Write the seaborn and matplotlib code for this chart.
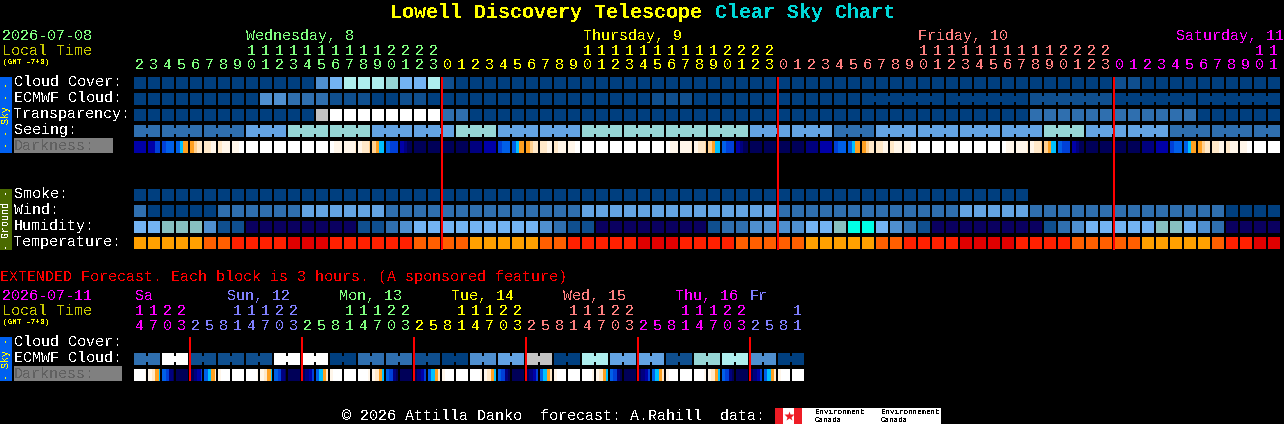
import numpy as np
import seaborn as sns
from matplotlib import pyplot as plt
from matplotlib.colors import ListedColormap
from matplotlib.patches import Rectangle

plt.rcParams['font.family'] = ['Liberation Mono', 'DejaVu Sans Mono']

W, H = 1284, 424

# colour levels, values below are indexes into these
sky_colors = ['#003f7f', '#0f4f8f', '#2f6faf', '#4f8fcf', '#63a3e3', '#73b3f3',
              '#96d6d6', '#aeeeee', '#c3c3c3', '#ffffff']
hum_colors = ['#0a0060', '#0f4f8f', '#2f6faf', '#4f8fcf', '#73b3f3', '#87c0c0', '#00ffe6']
temp_colors = ['#ffa000', '#ff5f00', '#ff2000', '#e00000']
dark_colors = ['#000058', '#00007f', '#0000a8', '#0040d8', '#0060e8', '#00c0ff',
               '#ffa020', '#ffd090', '#ffe8c8', '#fff6ea', '#ffffff']

# hourly forecast, 82 blocks
hours = [2, 3, 4, 5, 6, 7, 8, 9, 10, 11, 12, 13, 14, 15, 16, 17, 18, 19, 20, 21, 22, 23,
         0, 1, 2, 3, 4, 5, 6, 7, 8, 9, 10, 11, 12, 13, 14, 15, 16, 17, 18, 19, 20, 21, 22, 23,
         0, 1, 2, 3, 4, 5, 6, 7, 8, 9, 10, 11, 12, 13, 14, 15, 16, 17, 18, 19, 20, 21, 22, 23,
         0, 1, 2, 3, 4, 5, 6, 7, 8, 9, 10, 11]
hour_colors = ['#80ff80'] * 22 + ['#ffff00'] * 24 + ['#ff8080'] * 24 + ['#ff00ff'] * 12

cloud = [0] * 13 + [3, 5, 7, 7, 7, 6, 5, 5, 7, 1] + [0] * 47 + [1, 1] + [0] * 10
ecmwf = [0] * 9 + [3, 3, 2, 2, 2, 1, 1, 1, 0, 0, 1, 1, 0] + [0] * 15 + [1, 1, 1] + [0] * 24 + [1] * 6 + [0] * 12
transparency = [0] * 13 + [8] + [9] * 8 + [2, 2] + [0] * 40 + [2] * 12 + [0] * 6
seeing = [2] * 8 + [4] * 3 + [6] * 6 + [4] * 6 + [6] * 3 + [4] * 6 + [6] * 12 + [4] * 6 + [2] * 3 \
    + [4] * 12 + [6] * 3 + [4] * 6 + [2] * 8
seeing_groups = [2] + [3] * 26 + [2]
ecmwf_groups = [1] * 52 + [6] * 5

darkness = [
    [2, 2, 2, 2], [2, 2, 3, 3], [3, 4, 4, 4], [4, 5, 6, 6], [6, 7, 8, 8], [8, 8, 9, 9], [8, 9, 9, 9], [9, 9, 10, 10],
    [10, 10, 10, 10], [10, 10, 10, 10], [10, 10, 10, 10], [10, 10, 10, 10], [10, 10, 10, 10], [10, 10, 10, 10],
    [10, 9, 9, 9], [9, 9, 9, 8], [9, 8, 8, 7], [7, 6, 5, 5], [4, 3, 3, 3], [2, 1, 0, 0], [0, 0, 0, 0], [0, 0, 0, 0],
    # Thursday
    [0, 0, 0, 0], [0, 0, 0, 0], [1, 1, 1, 1], [2, 2, 2, 2], [3, 4, 4, 4], [4, 5, 6, 6], [6, 7, 8, 8], [8, 8, 9, 9],
    [8, 9, 9, 9], [9, 9, 10, 10], [10, 10, 10, 10], [10, 10, 10, 10], [10, 10, 10, 10], [10, 10, 10, 10],
    [10, 10, 10, 10], [10, 10, 10, 10], [10, 9, 9, 9], [9, 9, 9, 8], [9, 8, 8, 7], [7, 6, 5, 5], [4, 3, 3, 3],
    [2, 1, 0, 0], [0, 0, 0, 0], [0, 0, 0, 0],
    # Friday
    [0, 0, 0, 0], [0, 0, 0, 0], [1, 1, 1, 1], [2, 2, 2, 2], [3, 4, 4, 4], [4, 5, 6, 6], [6, 7, 8, 8], [8, 8, 9, 9],
    [8, 9, 9, 9], [9, 9, 10, 10], [10, 10, 10, 10], [10, 10, 10, 10], [10, 10, 10, 10], [10, 10, 10, 10],
    [10, 10, 10, 10], [10, 10, 10, 10], [10, 9, 9, 9], [9, 9, 9, 8], [9, 8, 8, 7], [7, 6, 5, 5], [4, 3, 3, 3],
    [2, 1, 0, 0], [0, 0, 0, 0], [0, 0, 0, 0],
    # Saturday
    [0, 0, 0, 0], [0, 0, 0, 0], [1, 1, 1, 1], [2, 2, 2, 2], [3, 4, 4, 4], [4, 5, 6, 6], [6, 7, 8, 8], [8, 8, 9, 9],
    [8, 9, 9, 9], [9, 9, 10, 10], [10, 10, 10, 10], [10, 10, 10, 10],
]

smoke = [0] * 64 + [np.nan] * 18
wind = [2, 0, 0, 0, 0, 0] + [2] * 6 + [4] * 6 + [2] * 14 + [4] * 14 + [2] * 13 + [4] * 5 + [2] * 14 + [0] * 4
humidity = [4, 4, 5, 5, 5, 3, 1, 1] + [0] * 8 + [1, 1, 2, 3, 4] \
    + [4] * 8 + [3, 2, 1, 1] + [0] * 8 + [1, 2, 2, 3, 3, 3, 3, 4, 4, 5, 6] \
    + [6, 4, 3, 2, 1] + [0] * 8 + [1, 2, 3, 4, 4, 4, 4, 4, 5, 5, 4, 3, 2] + [0] * 4
temperature = [0] * 5 + [1, 1, 2, 2, 2, 2, 3, 3, 3] + [2] * 6 + [1, 1, 1, 1] + [0] * 5 + [1, 1] \
    + [2] * 5 + [3, 3, 3] + [2] * 4 + [1] * 5 + [0] * 5 + [1, 1] + [2] * 4 + [3] * 4 + [2] * 4 \
    + [1] * 5 + [0] * 5 + [1, 2, 2, 3, 3]

# extended forecast, 48 blocks of 3 hours
ext_hours = [14, 17, 20, 23] + [2, 5, 8, 11, 14, 17, 20, 23] * 5 + [2, 5, 8, 11]
ext_hour_colors = ['#ff00ff'] * 4 + ['#8080ff'] * 8 + ['#80ff80'] * 8 + ['#ffff00'] * 8 \
    + ['#ff8080'] * 8 + ['#ff00ff'] * 8 + ['#8080ff'] * 4
ext_ecmwf = [2, 2, 9, 9, 1, 1, 1, 1, 1, 1, 9, 9, 9, 9, 0, 0, 2, 2, 2, 2, 1, 1, 0, 0,
             3, 3, 4, 4, 8, 8, 0, 0, 7, 7, 4, 4, 4, 4, 1, 1, 6, 6, 7, 7, 3, 3, 0, 0]
ext_darkness = [
    [10, 10, 10, 9], [9, 8, 6, 5], [4, 3, 1, 0], [0, 0, 0, 0],
    [0, 1, 2, 3], [4, 5, 6, 8], [9, 10, 10, 10], [10, 10, 10, 10], [10, 10, 10, 9], [9, 8, 6, 5], [4, 3, 1, 0], [0, 0, 0, 0],
    [0, 1, 2, 3], [4, 5, 6, 8], [9, 10, 10, 10], [10, 10, 10, 10], [10, 10, 10, 9], [9, 8, 6, 5], [4, 3, 1, 0], [0, 0, 0, 0],
    [0, 1, 2, 3], [4, 5, 6, 8], [9, 10, 10, 10], [10, 10, 10, 10], [10, 10, 10, 9], [9, 8, 6, 5], [4, 3, 1, 0], [0, 0, 0, 0],
    [0, 1, 2, 3], [4, 5, 6, 8], [9, 10, 10, 10], [10, 10, 10, 10], [10, 10, 10, 9], [9, 8, 6, 5], [4, 3, 1, 0], [0, 0, 0, 0],
    [0, 1, 2, 3], [4, 5, 6, 8], [9, 10, 10, 10], [10, 10, 10, 10], [10, 10, 10, 9], [9, 8, 6, 5], [4, 3, 1, 0], [0, 0, 0, 0],
    [0, 1, 2, 3], [4, 5, 6, 8], [9, 10, 10, 10], [10, 10, 10, 10],
]
ext_groups = [2] * 24

PX = 72 / 100  # one pixel in points


def draw_row(fig, top, values, colors, groups=None):
    # one heatmap strip per row, the black gaps go on top as lines
    arr = np.array(values, dtype=float)
    if arr.ndim == 1:
        arr = arr[:, None]
    n, sub = arr.shape
    ax = fig.add_axes([133 / W, 1 - (top + 12) / H, n * 14 / W, 12 / H])
    sns.heatmap(arr.reshape(1, n * sub), ax=ax, cmap=ListedColormap(colors), vmin=-0.5, vmax=len(colors) - 0.5,
                cbar=False, xticklabels=False, yticklabels=False)
    ax.set_xlim(-1 / 14 * sub, (n - 1 / 14) * sub)
    ax.set_facecolor('black')
    edges = np.cumsum(groups) if groups else np.arange(n + 1)
    for i in range(n + 1):
        if i == 0 or i in edges:
            ax.vlines(i * sub - sub / 14, 0, 1, color='black', lw=2 * PX, antialiased=False)
        else:
            ax.vlines(i * sub - sub / 14, 0, 0.25, color='black', lw=2 * PX, antialiased=False)
            ax.vlines(i * sub - sub / 14, 0.75, 1, color='black', lw=2 * PX, antialiased=False)


def label(ax, x, y, s, color='white', size=10.8, **kw):
    ax.text(x, y + 1, s, color=color, fontsize=size, va='center', ha=kw.pop('ha', 'left'), antialiased=False, **kw)


def box(ax, x, y, w, h, color):
    ax.add_patch(Rectangle((x, y), w, h, facecolor=color, edgecolor='none', antialiased=False))


def hour_digits(ax, hrs, cols, y_tens, y_units):
    for i, (h, c) in enumerate(zip(hrs, cols)):
        x = 139.5 + 14 * i
        if h >= 10:
            label(ax, x, y_tens, str(h // 10), c, ha='center')
        label(ax, x, y_units, str(h % 10), c, ha='center')


fig = plt.figure(figsize=(W / 100, H / 100), dpi=100, facecolor='black')

draw_row(fig, 77, cloud, sky_colors)
draw_row(fig, 93, ecmwf, sky_colors, ecmwf_groups)
draw_row(fig, 109, transparency, sky_colors)
draw_row(fig, 125, seeing, sky_colors, seeing_groups)
draw_row(fig, 141, darkness, dark_colors)
draw_row(fig, 189, smoke, sky_colors)
draw_row(fig, 205, wind, sky_colors)
draw_row(fig, 221, humidity, hum_colors)
draw_row(fig, 237, temperature, temp_colors)
draw_row(fig, 353, ext_ecmwf, sky_colors, ext_groups)
draw_row(fig, 369, ext_darkness, dark_colors)

# overlay in pixel coordinates for text and furniture
ax = fig.add_axes([0, 0, 1, 1], zorder=5)
ax.set_xlim(0, W)
ax.set_ylim(H, 0)
ax.axis('off')

label(ax, 390, 12, 'Lowell Discovery Telescope', '#ffff00', 14.4, fontweight='bold')
label(ax, 715, 12, 'Clear Sky Chart', '#00d8d8', 14.4, fontweight='bold')

label(ax, 2, 35, '2026-07-08', '#80ff80')
label(ax, 2, 50, 'Local Time', '#c8c800')
label(ax, 3, 61, '(GMT -7+0)', '#ffff00', 5.6)
label(ax, 246, 35, 'Wednesday, 8', '#80ff80')
label(ax, 583, 35, 'Thursday, 9', '#ffff00')
label(ax, 918, 35, 'Friday, 10', '#ff8080')
label(ax, 1176, 35, 'Saturday, 11', '#ff00ff')
hour_digits(ax, hours, hour_colors, 50, 64)

# side strips
box(ax, 0, 77, 12, 76, '#0060f0')
box(ax, 0, 189, 12, 61, '#4a6a00')
box(ax, 0, 337, 12, 44, '#0060f0')
label(ax, 6, 114, '- - Sky - -', '#ffff00', 7.2, rotation=90, ha='center')
label(ax, 6, 218.5, '- Ground -', 'white', 7.2, rotation=90, ha='center')
label(ax, 6, 358, '- Sky -', '#ffff00', 7.2, rotation=90, ha='center')

for y, s in zip([81, 97, 113, 129], ['Cloud Cover:', 'ECMWF Cloud:', 'Transparency:', 'Seeing:']):
    label(ax, 14, y, s)
box(ax, 14, 138, 99, 15, '#808080')
label(ax, 14, 145, 'Darkness:', '#606060')
for y, s in zip([193, 209, 225, 241], ['Smoke:', 'Wind:', 'Humidity:', 'Temperature:']):
    label(ax, 14, y, s)

# extended block
label(ax, 0, 276, 'EXTENDED Forecast. Each block is 3 hours. (A sponsored feature)', '#ff0000')
label(ax, 2, 295, '2026-07-11', '#ff00ff')
label(ax, 2, 310, 'Local Time', '#c8c800')
label(ax, 3, 321, '(GMT -7+0)', '#ffff00', 5.6)
for x, s, c in zip([135, 227, 339, 451, 563, 675, 750],
                   ['Sa', 'Sun, 12', 'Mon, 13', 'Tue, 14', 'Wed, 15', 'Thu, 16', 'Fr'],
                   ['#ff00ff', '#8080ff', '#80ff80', '#ffff00', '#ff8080', '#ff00ff', '#8080ff']):
    label(ax, x, 295, s, c)
hour_digits(ax, ext_hours, ext_hour_colors, 310, 325)
label(ax, 14, 341, 'Cloud Cover:')
label(ax, 14, 357, 'ECMWF Cloud:')
box(ax, 14, 366, 108, 15, '#808080')
label(ax, 14, 373, 'Darkness:', '#606060')

# midnight lines
for x in [441, 777, 1113]:
    box(ax, x, 77, 2, 173, '#ff0000')
for x in [189, 301, 413, 525, 637, 749]:
    box(ax, x, 337, 2, 44, '#ff0000')

# footer with the logo
label(ax, 342, 415, '\u00a9 2026 Attilla Danko  forecast: A.Rahill  data:')
box(ax, 775, 408, 166, 16, 'white')
box(ax, 775, 408, 8, 16, '#ee1c25')
box(ax, 794, 408, 8, 16, '#ee1c25')
ax.plot([788.5], [416], marker='*', ms=7, color='#ee1c25', mec='none')
for x, s in zip([815, 881], ['Environment', 'Environnement']):
    label(ax, x, 411, s, 'black', 5.4)
    label(ax, x, 419, 'Canada', 'black', 5.4)

fig.savefig('out.png', dpi=100, facecolor='black')
